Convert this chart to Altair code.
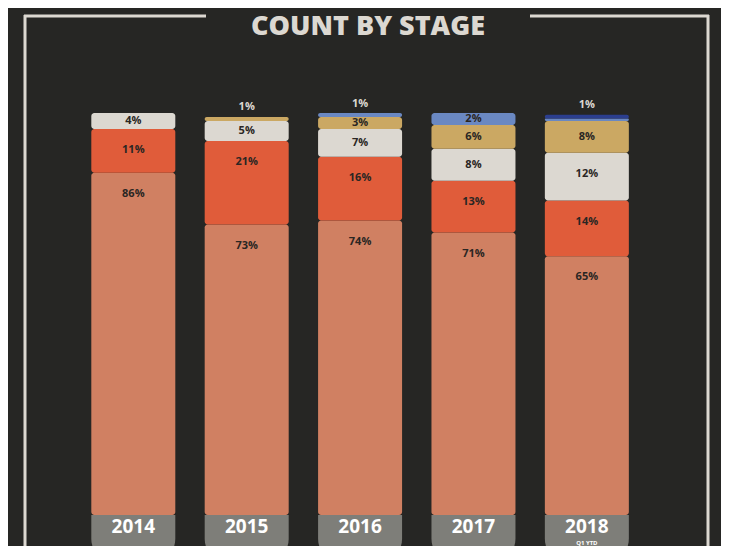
import altair as alt
import pandas as pd

years = ["2014", "2015", "2016", "2017", "2018"]
stages = ["s1", "s2", "s3", "s4", "s5", "s6"]
colors = ["#d08062", "#e05c3a", "#dcd8d1", "#cba863", "#6a88c2", "#2b3e8f"]
vals = {
    "2014": [86, 11, 4, 0, 0, 0],
    "2015": [73, 21, 5, 1, 0, 0],
    "2016": [74, 16, 7, 3, 1, 0],
    "2017": [71, 13, 8, 6, 3, 0],
    "2018": [65, 14, 12, 8, 0.6, 1],
}
labels = {
    "2014": ["86%", "11%", "4%", "", "", ""],
    "2015": ["73%", "21%", "5%", "1%", "", ""],
    "2016": ["74%", "16%", "7%", "3%", "1%", ""],
    "2017": ["71%", "13%", "8%", "6%", "2%", ""],
    "2018": ["65%", "14%", "12%", "8%", "", "1%"],
}

rows, labs = [], []
for i, y in enumerate(years):
    base = 0
    for j, s in enumerate(stages):
        v = vals[y][j]
        if v > 0:
            rows.append(dict(x=i + 1, y0=base, y1=base + v, stage=s))
            t = labels[y][j]
            if t:
                if v < 2:
                    ly = sum(vals[y]) + 2.4
                    col = "#dcd8d1"
                else:
                    ly = base + v - min(v / 2, 5.3)
                    col = "#2a2623"
                labs.append(dict(x=i + 1, y=ly, t=t, c=col))
        base += v
df = pd.DataFrame(rows)
ldf = pd.DataFrame(labs)
cap = pd.DataFrame(dict(x=range(1, 6), y0=[-12] * 5, y1=[0] * 5, yr=years))

X = alt.X("x:Q", scale=alt.Scale(domain=[-0.061, 6.139]), axis=None)
YS = alt.Scale(domain=[-7.8, 127.4])

bars = alt.Chart(df).mark_bar(width=84, cornerRadius=3).encode(
    x=X, y=alt.Y("y0:Q", scale=YS, axis=None), y2="y1:Q",
    color=alt.Color("stage:N", scale=alt.Scale(domain=stages, range=colors), legend=None),
)
caps = alt.Chart(cap).mark_bar(width=84, color="#7e7e79", cornerRadiusBottomLeft=40,
                               cornerRadiusBottomRight=40, clip=True).encode(
    x=X, y=alt.Y("y0:Q", scale=YS, axis=None), y2="y1:Q")
yrtext = alt.Chart(cap).mark_text(font="Open Sans", fontWeight="bold", fontSize=19,
                                  color="#ffffff").encode(
    x=X, y=alt.value(519), text="yr:N")
q1 = alt.Chart(pd.DataFrame(dict(x=[5], t=["Q1 YTD"]))).mark_text(
    font="Open Sans", fontWeight="bold", fontSize=6, color="#ffffff").encode(
    x=X, y=alt.value(535), text="t:N")
txt = alt.Chart(ldf).mark_text(font="Open Sans", fontWeight="bold", fontSize=11).encode(
    x=X, y=alt.Y("y:Q", scale=YS, axis=None), text="t:N",
    color=alt.Color("c:N", scale=None))

lc = "#dcd8d1"
frame = [
    alt.Chart().mark_rule(color=lc, strokeWidth=3).encode(x=alt.value(17), y=alt.value(7), y2=alt.value(560)),
    alt.Chart().mark_rule(color=lc, strokeWidth=3).encode(x=alt.value(700), y=alt.value(7), y2=alt.value(560)),
    alt.Chart().mark_rule(color=lc, strokeWidth=3).encode(x=alt.value(16), x2=alt.value(198), y=alt.value(8)),
    alt.Chart().mark_rule(color=lc, strokeWidth=3).encode(x=alt.value(522), x2=alt.value(701), y=alt.value(8)),
]
title = alt.Chart(pd.DataFrame(dict(t=["COUNT BY STAGE"]))).mark_text(
    font="Open Sans", fontWeight=800, fontSize=27, color=lc).encode(
    x=alt.value(360), y=alt.value(19), text="t:N")

chart = alt.layer(*frame, title, caps, bars, txt, yrtext, q1).properties(
    width=713, height=538, padding=0, autosize="none", background="#262624"
).configure_view(stroke=None)
chart.save("out.html", embed_options={"renderer": "svg", "actions": False})
